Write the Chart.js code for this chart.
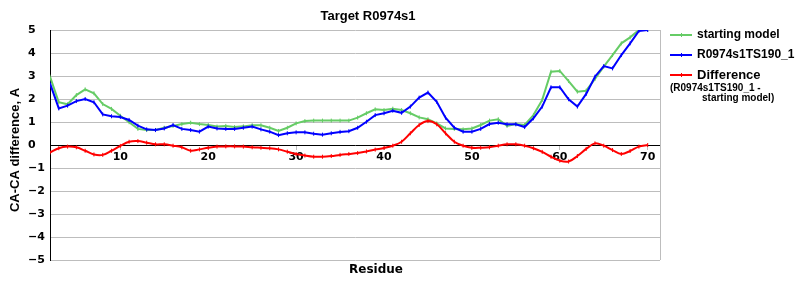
<!DOCTYPE html>
<html>
<head>
<meta charset="utf-8">
<script src="https://cdn.jsdelivr.net/npm/chart.js@4"></script>
<style>
  html, body { margin:0; padding:0; background:#fff; }
  #wrap { width:800px; height:300px; }
</style>
</head>
<body>
<div id="wrap"><canvas id="chart" width="800" height="300"></canvas></div>
<script>
const residues = [2,3,4,5,6,7,8,9,10,11,12,13,14,15,16,17,18,19,20,21,22,23,24,25,26,27,28,29,30,
  31,32,33,34,35,36,37,38,39,40,41,42,43,44,45,46,47,48,49,50,51,52,53,54,55,56,57,58,59,60,
  61,62,63,64,65,66,67,68,69,70];

const startingModel = [2.97,1.86,1.77,2.17,2.42,2.25,1.78,1.57,1.27,0.99,0.70,0.65,0.65,0.75,0.83,0.91,0.97,0.91,0.87,
  0.80,0.83,0.78,0.81,0.86,0.86,0.75,0.61,0.75,0.94,1.04,1.06,1.06,1.06,1.06,1.06,1.19,1.38,1.55,1.52,
  1.58,1.52,1.38,1.20,1.12,0.94,0.72,0.70,0.68,0.72,0.87,1.06,1.12,0.83,0.91,0.87,1.30,1.96,3.19,3.22,
  2.78,2.32,2.36,2.87,3.41,3.91,4.42,4.68,5.00,5.00];

const model190 = [2.68,1.59,1.71,1.91,2.00,1.86,1.33,1.25,1.22,1.09,0.84,0.68,0.65,0.72,0.87,0.70,0.65,0.58,0.80,
  0.72,0.70,0.70,0.75,0.80,0.68,0.58,0.43,0.51,0.55,0.55,0.49,0.45,0.51,0.57,0.60,0.75,1.01,1.30,1.38,
  1.49,1.40,1.67,2.06,2.28,1.88,1.19,0.75,0.58,0.58,0.70,0.91,0.97,0.90,0.90,0.78,1.16,1.67,2.51,2.51,
  1.99,1.67,2.22,2.97,3.43,3.33,3.91,4.42,4.96,5.00];

const difference = [-0.33,-0.14,-0.07,-0.10,-0.25,-0.41,-0.43,-0.25,-0.04,0.14,0.17,0.10,0.03,0.03,-0.03,-0.10,-0.25,-0.19,-0.12,
  -0.07,-0.06,-0.06,-0.07,-0.10,-0.12,-0.14,-0.19,-0.29,-0.39,-0.46,-0.51,-0.51,-0.48,-0.43,-0.39,-0.35,-0.28,-0.20,-0.13,
  -0.03,0.14,0.51,0.87,1.04,0.90,0.51,0.14,-0.03,-0.12,-0.12,-0.10,-0.03,0.03,0.03,-0.03,-0.14,-0.30,-0.51,-0.68,
  -0.72,-0.48,-0.17,0.07,-0.03,-0.22,-0.39,-0.26,-0.07,0.00];

const xTicks = [10,20,30,40,50,60,70];

const GREEN = "#66cc66";
const BLUE  = "#0000ff";
const RED   = "#ff0000";
const GRID  = "#bdbdbd";

function ds(label, data, color, order, tension){
  return {
    label, data, order, tension,
    borderColor: color, backgroundColor: color,
    borderWidth: 2,
    pointStyle: "line", pointRotation: 90,
    pointRadius: 2, pointBorderWidth: 1, pointBorderColor: color,
    fill: false
  };
}

// title, axis titles, right border and the legend are painted by hand
const decor = {
  id: "decor",
  beforeDatasetsDraw(chart){
    const { ctx, chartArea: a } = chart;
    ctx.save();
    ctx.strokeStyle = GRID;
    ctx.lineWidth = 1;
    ctx.beginPath();
    ctx.moveTo(a.right + 0.5, a.top);
    ctx.lineTo(a.right + 0.5, a.bottom);
    ctx.stroke();
    ctx.restore();
  },
  afterDraw(chart){
    const ctx = chart.ctx;
    ctx.save();
    ctx.fillStyle = "#000";
    ctx.textBaseline = "middle";
    ctx.textAlign = "center";

    ctx.font = "bold 13px 'Liberation Sans', Arial, sans-serif";
    ctx.fillText("Target R0974s1", 368, 16);

    ctx.font = "bold 12px 'DejaVu Sans', Verdana, sans-serif";
    ctx.fillText("Residue", 376, 270);

    ctx.save();
    ctx.translate(15, 150);
    ctx.rotate(-Math.PI / 2);
    ctx.font = "bold 13px 'Liberation Sans', Arial, sans-serif";
    ctx.fillText("CA-CA difference, A", 0, 0);
    ctx.restore();

    // legend
    const items = [
      { color: GREEN, text: "starting model", y: 35, size: 12 },
      { color: BLUE,  text: "R0974s1TS190_1", y: 55, size: 12 },
      { color: RED,   text: "Difference",     y: 75, size: 13 }
    ];
    ctx.textAlign = "left";
    items.forEach(it => {
      ctx.strokeStyle = it.color;
      ctx.lineWidth = 2;
      ctx.beginPath();
      ctx.moveTo(670, it.y); ctx.lineTo(692, it.y);
      ctx.stroke();
      ctx.lineWidth = 1;
      ctx.beginPath();
      ctx.moveTo(681.5, it.y - 2); ctx.lineTo(681.5, it.y + 2);
      ctx.stroke();
      ctx.font = `bold ${it.size}px 'Liberation Sans', Arial, sans-serif`;
      ctx.fillText(it.text, 697, it.y);
    });
    ctx.font = "bold 10px 'Liberation Sans', Arial, sans-serif";
    ctx.fillText("(R0974s1TS190_1 -", 670, 88);
    ctx.fillText("starting model)", 702, 98);
    ctx.restore();
  }
};

const ctx = document.getElementById("chart").getContext("2d");
new Chart(ctx, {
  type: "line",
  data: {
    labels: residues,
    datasets: [
      ds("starting model", startingModel, GREEN, 2, 0),
      ds("R0974s1TS190_1", model190, BLUE, 1, 0),
      ds("Difference", difference, RED, 0, 0.35)
    ]
  },
  options: {
    responsive: false,
    animation: false,
    layout: { padding: { left: 28, right: 140, top: 30, bottom: 40 } },
    plugins: { legend: { display: false }, tooltip: { enabled: false }, title: { display: false } },
    scales: {
      x: {
        type: "linear",
        position: { y: 0 },
        min: 2, max: 71.4,
        afterBuildTicks: axis => { axis.ticks = xTicks.map(v => ({ value: v })); },
        grid: { drawOnChartArea: false, drawTicks: true, tickLength: 5, color: GRID },
        border: { display: false },
        ticks: {
          autoSkip: false, maxRotation: 0, padding: 1, color: "#000",
          font: { family: "'DejaVu Sans', Verdana, sans-serif", size: 11, weight: "bold" }
        }
      },
      y: {
        min: -5, max: 5,
        afterFit: s => { s.width = 22; },
        grid: {
          drawTicks: false,
          lineWidth: 1,
          color: c => (c.tick && c.tick.value === 0) ? "#000" : GRID
        },
        border: { display: true, color: "#000", width: 1 },
        ticks: {
          stepSize: 1, crossAlign: "far", color: "#000",
          font: { family: "'DejaVu Sans', Verdana, sans-serif", size: 11, weight: "bold" },
          callback: v => v < 0 ? "\u2212" + Math.abs(v) : String(v)
        }
      }
    }
  },
  plugins: [decor]
});
</script>
</body>
</html>
